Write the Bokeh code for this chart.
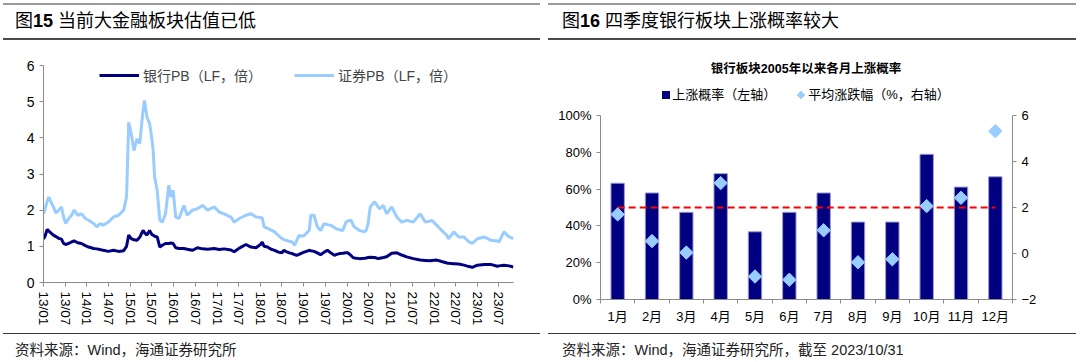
import pandas as pd
from bokeh.plotting import figure
from bokeh.models import (Range1d, LinearAxis, FixedTicker, NumeralTickFormatter, Legend,
                          LegendItem, Div, Spacer, ColumnDataSource, DatetimeTickFormatter)
from bokeh.layouts import row, column
from bokeh.embed import file_html
from bokeh.resources import INLINE

FONT = "'Liberation Sans', 'Noto Sans CJK SC', sans-serif"

# ---------------- left chart data (PB, LF) ----------------
pb_dates = [
    "2013-01-01", "2013-01-16", "2013-02-01", "2013-02-15", "2013-03-01", "2013-03-25", "2013-04-16", "2013-05-10", "2013-06-01", "2013-06-19",
    "2013-07-07", "2013-08-01", "2013-08-25", "2013-09-16", "2013-10-16", "2013-11-16", "2013-12-19", "2014-01-16", "2014-02-27", "2014-03-25",
    "2014-04-22", "2014-05-19", "2014-07-01", "2014-08-13", "2014-09-25", "2014-11-07", "2014-12-01", "2014-12-19", "2015-01-10", "2015-02-01",
    "2015-02-27", "2015-03-22", "2015-04-19", "2015-05-01", "2015-05-22", "2015-06-13", "2015-07-01", "2015-07-13", "2015-07-25", "2015-08-16",
    "2015-09-07", "2015-09-28", "2015-10-25", "2015-11-22", "2015-12-10", "2015-12-28", "2016-01-19", "2016-02-15", "2016-03-28", "2016-04-25",
    "2016-06-07", "2016-07-19", "2016-09-01", "2016-10-13", "2016-12-07", "2017-01-19", "2017-03-01", "2017-04-28", "2017-05-25", "2017-07-07",
    "2017-09-01", "2017-10-13", "2017-11-25", "2018-01-01", "2018-01-16", "2018-02-01", "2018-03-01", "2018-04-01", "2018-05-01", "2018-06-01",
    "2018-07-01", "2018-07-16", "2018-08-01", "2018-09-01", "2018-09-25", "2018-10-16", "2018-11-01", "2018-11-22", "2018-12-19", "2019-01-04",
    "2019-02-16", "2019-03-01", "2019-03-28", "2019-04-25", "2019-05-22", "2019-06-22", "2019-07-19", "2019-08-16", "2019-09-16", "2019-09-28",
    "2019-10-28", "2019-11-25", "2019-12-22", "2020-01-07", "2020-02-04", "2020-02-19", "2020-03-01", "2020-04-13", "2020-05-25", "2020-06-10",
    "2020-06-25", "2020-07-13", "2020-08-19", "2020-09-19", "2020-10-01", "2020-11-01", "2020-11-28", "2021-01-10", "2021-02-22", "2021-04-04",
    "2021-05-16", "2021-07-10", "2021-09-07", "2021-10-19", "2021-12-01", "2021-12-13", "2022-01-25", "2022-03-07", "2022-04-19", "2022-05-04",
    "2022-06-16", "2022-07-28", "2022-09-10", "2022-10-22", "2022-11-19", "2023-01-01", "2023-02-28", "2023-04-22", "2023-06-19", "2023-07-01",
    "2023-08-13", "2023-09-25", "2023-10-31",
]
bank_pb = [
    1.20, 1.30, 1.47, 1.42, 1.38, 1.31, 1.27, 1.22, 1.20, 1.08,
    1.05, 1.08, 1.12, 1.15, 1.10, 1.08, 1.02, 0.98, 0.94, 0.93,
    0.91, 0.89, 0.86, 0.89, 0.86, 0.88, 1.00, 1.31, 1.21, 1.18,
    1.17, 1.25, 1.44, 1.38, 1.31, 1.44, 1.33, 1.31, 1.28, 1.26,
    0.98, 1.03, 1.08, 1.08, 1.09, 1.08, 0.96, 0.94, 0.94, 0.92,
    0.89, 0.96, 0.93, 0.92, 0.94, 0.91, 0.93, 0.90, 0.85, 0.95,
    1.05, 0.98, 0.96, 1.05, 1.12, 1.00, 0.98, 0.92, 0.89, 0.84,
    0.82, 0.89, 0.86, 0.82, 0.80, 0.77, 0.75, 0.78, 0.82, 0.84,
    0.89, 0.88, 0.86, 0.82, 0.77, 0.84, 0.89, 0.82, 0.75, 0.77,
    0.80, 0.81, 0.82, 0.82, 0.74, 0.69, 0.68, 0.66, 0.67, 0.68,
    0.69, 0.70, 0.69, 0.66, 0.67, 0.69, 0.71, 0.81, 0.82, 0.76,
    0.71, 0.66, 0.62, 0.61, 0.60, 0.61, 0.62, 0.58, 0.54, 0.53,
    0.52, 0.51, 0.48, 0.44, 0.42, 0.48, 0.50, 0.50, 0.45, 0.46,
    0.48, 0.46, 0.43,
]
sec_pb = [
    1.90, 2.05, 2.25, 2.36, 2.25, 2.09, 1.92, 2.00, 2.09, 1.81,
    1.63, 1.77, 1.86, 2.00, 1.86, 1.90, 1.77, 1.72, 1.63, 1.54,
    1.63, 1.58, 1.67, 1.81, 1.86, 2.00, 2.36, 4.43, 4.11, 3.65,
    3.97, 3.84, 4.76, 5.03, 4.57, 4.40, 4.00, 3.65, 2.92, 2.55,
    1.72, 1.67, 1.90, 2.69, 2.36, 2.55, 1.81, 1.77, 2.13, 1.86,
    2.00, 2.04, 2.13, 2.00, 2.09, 1.95, 1.90, 1.81, 1.67, 1.77,
    1.86, 1.90, 1.81, 1.80, 1.78, 1.54, 1.50, 1.45, 1.40, 1.30,
    1.21, 1.19, 1.17, 1.14, 1.12, 1.03, 1.15, 1.30, 1.28, 1.30,
    1.44, 1.86, 1.86, 1.54, 1.44, 1.63, 1.60, 1.58, 1.52, 1.49,
    1.46, 1.44, 1.67, 1.70, 1.72, 1.60, 1.54, 1.44, 1.40, 1.45,
    1.63, 2.09, 2.23, 2.08, 2.04, 2.13, 1.90, 2.09, 1.81, 1.67,
    1.72, 1.67, 1.90, 1.67, 1.70, 1.72, 1.58, 1.44, 1.30, 1.21,
    1.40, 1.26, 1.26, 1.12, 1.08, 1.21, 1.26, 1.17, 1.15, 1.12,
    1.40, 1.26, 1.21,
]
pb_tick_dates = [
    "2013-01-01", "2013-07-01", "2014-01-01", "2014-07-01", "2015-01-01", "2015-07-01",
    "2016-01-01", "2016-07-01", "2017-01-01", "2017-07-01", "2018-01-01", "2018-07-01",
    "2019-01-01", "2019-07-01", "2020-01-01", "2020-07-01", "2021-01-01", "2021-07-01",
    "2022-01-01", "2022-07-01", "2023-01-01", "2023-07-01",
]
pb_tick_labels = [
    "13/01", "13/07", "14/01", "14/07", "15/01", "15/07", "16/01", "16/07", "17/01", "17/07",
    "18/01", "18/07", "19/01", "19/07", "20/01", "20/07", "21/01", "21/07", "22/01", "22/07",
    "23/01", "23/07",
]
pb_y_ticks = [0, 1, 2, 3, 4, 5, 6]
pb_x_start, pb_x_end = "2013-01-01", "2023-11-01"

# ---------------- right chart data ----------------
months = ["1月", "2月", "3月", "4月", "5月", "6月", "7月", "8月", "9月", "10月", "11月", "12月"]
up_prob = [0.632, 0.579, 0.474, 0.684, 0.368, 0.474, 0.579, 0.421, 0.421, 0.789, 0.611, 0.667]
avg_chg = [1.70, 0.54, 0.04, 3.06, -1.00, -1.14, 1.01, -0.38, -0.25, 2.06, 2.42, 5.32]
ref_level = 0.5
prob_ticks = [0, 0.2, 0.4, 0.6, 0.8, 1.0]
chg_ticks = [-2, 0, 2, 4, 6]

AXIS_GREY = "#8c8c8c"
NAVY = "#000080"
LIGHT = "#99ccff"

LEFT_W = 537
RIGHT_W = 528
TITLE_H = 37
FIG_H = 293
FOOT_H = 27
HEAD2_H = 65


def title_div(html, pad, w):
    return Div(
        text=(f'<div style="box-sizing:border-box;width:{w}px;height:{TITLE_H}px;'
              f'border-top:2px solid #9a9a9a;border-bottom:2px solid #4a4a4a;'
              f'font-family:{FONT};font-size:18px;line-height:33px;padding-left:{pad}px;'
              f'color:#000;white-space:nowrap;">{html}</div>'),
        width=w, height=TITLE_H, margin=0)


def foot_div(text, pad, w):
    return Div(
        text=(f'<div style="box-sizing:border-box;width:{w}px;height:{FOOT_H}px;'
              f'border-top:1.5px solid #3a3a3a;font-family:{FONT};font-size:14.5px;'
              f'line-height:18px;padding-top:7px;padding-left:{pad}px;color:#222;white-space:nowrap;">{text}</div>'),
        width=w, height=FOOT_H, margin=0)


def style_axis(ax, size):
    ax.axis_line_color = AXIS_GREY
    ax.major_tick_line_color = AXIS_GREY
    ax.minor_tick_line_color = None
    ax.major_tick_in = 0
    ax.major_tick_out = 4
    ax.major_label_text_font = FONT
    ax.major_label_text_font_size = size
    ax.major_label_text_color = "#000000"


# ---------------- left figure ----------------
dts = pd.to_datetime(pb_dates)
src1 = ColumnDataSource(dict(d=dts, bank=bank_pb, sec=sec_pb))
p1 = figure(width=LEFT_W, height=FIG_H, x_axis_type="datetime",
            x_range=Range1d(pd.Timestamp(pb_x_start), pd.Timestamp(pb_x_end)),
            y_range=Range1d(pb_y_ticks[0], pb_y_ticks[-1]),
            output_backend="svg", toolbar_location=None,
            min_border_left=40, min_border_right=27, min_border_top=25, min_border_bottom=51)
p1.xgrid.visible = False
p1.ygrid.visible = False
p1.outline_line_color = None
r_bank = p1.line("d", "bank", source=src1, line_color=NAVY, line_width=3)
r_sec = p1.line("d", "sec", source=src1, line_color=LIGHT, line_width=3)

tick_ms = [int(pd.Timestamp(d).value // 10**6) for d in pb_tick_dates]
p1.xaxis.ticker = FixedTicker(ticks=tick_ms)
p1.xaxis.formatter = DatetimeTickFormatter(days="%y/%m", months="%y/%m", years="%y/%m")
p1.xaxis.major_label_overrides = {t: l for t, l in zip(tick_ms, pb_tick_labels)}
p1.xaxis.major_label_orientation = "vertical"
p1.yaxis.ticker = FixedTicker(ticks=pb_y_ticks)
style_axis(p1.xaxis[0], "13.5px")
style_axis(p1.yaxis[0], "14px")

leg1 = Legend(items=[LegendItem(label="银行PB（LF，倍）", renderers=[r_bank]),
                     LegendItem(label="证券PB（LF，倍）", renderers=[r_sec])],
              location="top_center", orientation="horizontal",
              border_line_color=None, background_fill_alpha=0,
              label_text_font=FONT, label_text_font_size="14px",
              glyph_width=40, glyph_height=12, label_height=12, spacing=32,
              margin=0, padding=0, label_standoff=4)
p1.add_layout(leg1)

# ---------------- right figure ----------------
xs = list(range(1, len(months) + 1))
src2 = ColumnDataSource(dict(x=xs, prob=up_prob, chg=avg_chg))
p2 = figure(width=RIGHT_W, height=FIG_H - HEAD2_H,
            x_range=Range1d(xs[0] - 0.5, xs[-1] + 0.5),
            y_range=Range1d(prob_ticks[0], prob_ticks[-1]),
            output_backend="svg", toolbar_location=None,
            min_border_left=52, min_border_right=64, min_border_top=10, min_border_bottom=34)
p2.extra_y_ranges = {"chg": Range1d(chg_ticks[0], chg_ticks[-1])}
p2.xgrid.visible = False
p2.ygrid.visible = False
p2.outline_line_color = None

bars = p2.vbar(x="x", top="prob", width=0.39, source=src2,
               fill_color=NAVY, line_color="#9a9ad0", line_width=1)
p2.line(x=[xs[0], xs[-1]], y=[ref_level, ref_level], line_color="#ff0000",
        line_dash="7 4", line_width=2)
dia = p2.scatter(x="x", y="chg", y_range_name="chg", source=src2, marker="square",
                 angle=0.785398, size=9.5, fill_color=LIGHT, line_color=LIGHT)

p2.xaxis.ticker = FixedTicker(ticks=xs, minor_ticks=[x - 0.5 for x in xs] + [xs[-1] + 0.5])
p2.xaxis.major_label_overrides = {x: m for x, m in zip(xs, months)}
style_axis(p2.xaxis[0], "13px")
p2.xaxis.major_tick_line_color = None
p2.xaxis.minor_tick_line_color = AXIS_GREY
p2.xaxis.minor_tick_in = 0
p2.xaxis.minor_tick_out = 4
p2.yaxis.ticker = FixedTicker(ticks=prob_ticks)
p2.yaxis.formatter = NumeralTickFormatter(format="0%")
style_axis(p2.yaxis[0], "13px")
ax_r = LinearAxis(y_range_name="chg", ticker=FixedTicker(ticks=chg_ticks))
style_axis(ax_r, "13px")
p2.add_layout(ax_r, "right")

head2 = Div(
    text=(f'<div style="box-sizing:border-box;width:{RIGHT_W}px;height:{HEAD2_H}px;'
          f'font-family:{FONT};color:#000;text-align:center;padding-right:12px;white-space:nowrap;">'
          f'<div style="padding-top:21px;line-height:16px;font-size:12.5px;font-weight:bold;">'
          f'银行板块2005年以来各月上涨概率</div>'
          f'<div style="margin-top:10px;line-height:16px;font-size:13px;">'
          f'<span style="display:inline-block;width:8px;height:8px;background:{NAVY};margin-right:2px;"></span>'
          f'上涨概率（左轴）'
          f'<span style="display:inline-block;width:6px;height:6px;background:{LIGHT};transform:rotate(45deg);'
          f'margin-left:22px;margin-right:4px;margin-bottom:1px;"></span>'
          f'平均涨跌幅（%，右轴）</div></div>'),
    width=RIGHT_W, height=HEAD2_H, margin=0)

left = column(title_div('图<b>15</b> 当前大金融板块估值已低', 12, LEFT_W), p1,
              foot_div("资料来源：Wind，海通证券研究所", 12, LEFT_W))
right = column(title_div('图<b>16</b> 四季度银行板块上涨概率较大', 14, RIGHT_W), head2, p2,
               foot_div("资料来源：Wind，海通证券研究所，截至 2023/10/31", 14, RIGHT_W))
layout = column(Spacer(height=3),
                row(Spacer(width=3), left, Spacer(width=8), right))

open("out.html", "w").write(file_html(layout, INLINE))
